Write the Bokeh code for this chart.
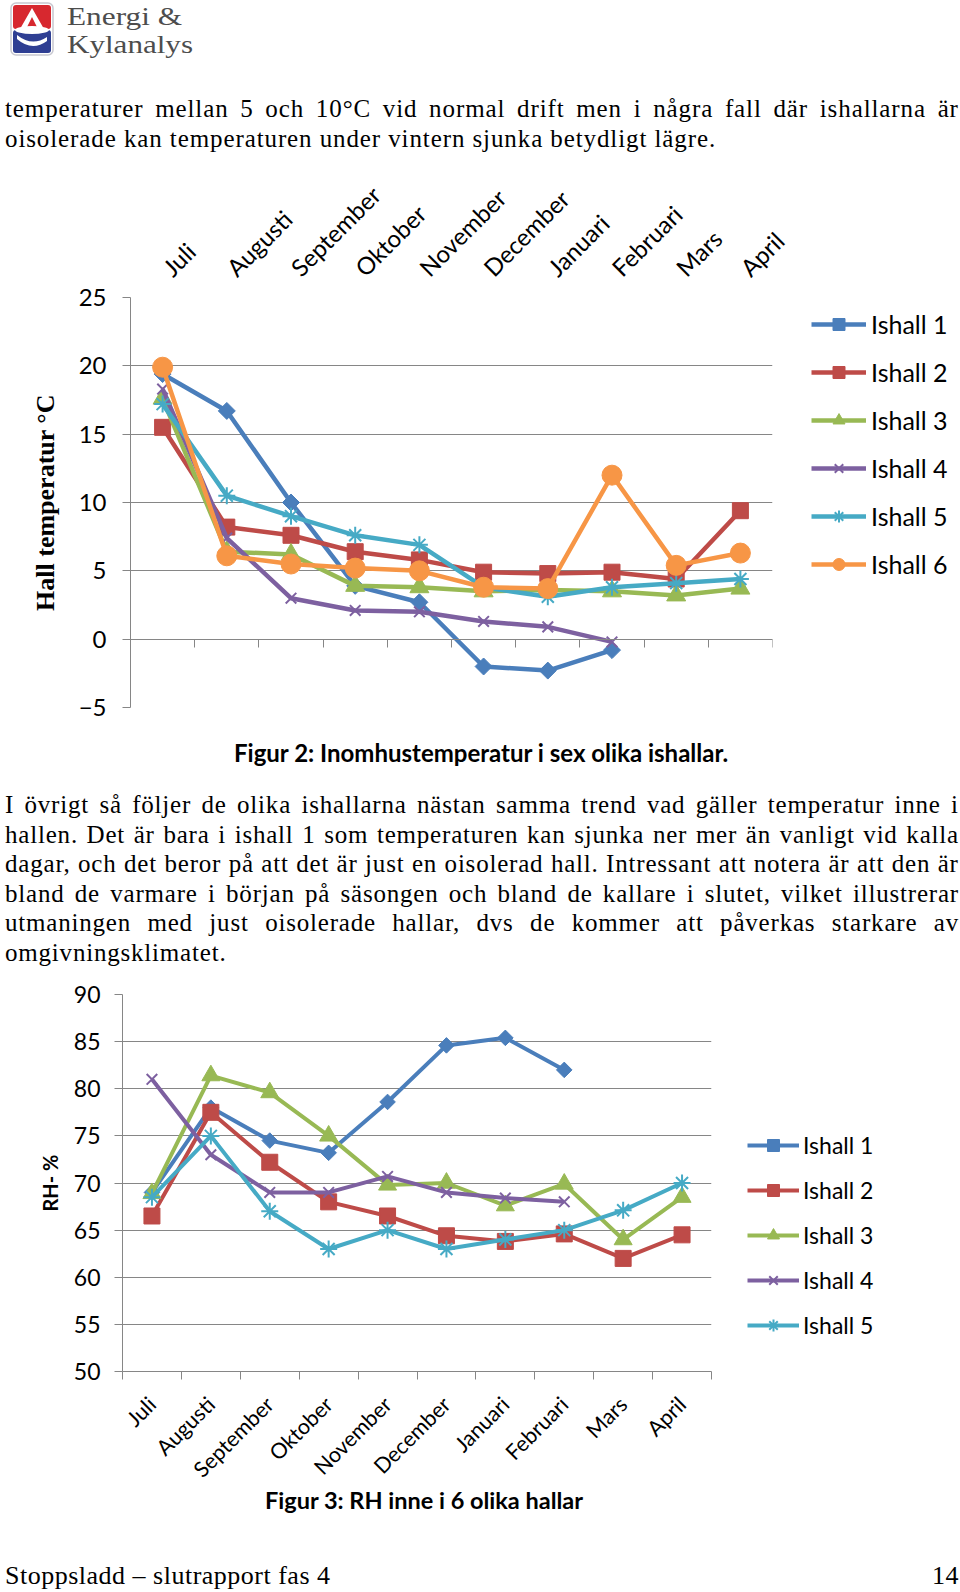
import numpy as np
from bokeh.plotting import figure
from bokeh.models import Div, FixedTicker, LinearAxis, Legend, LegendItem, Range1d
from bokeh.layouts import column
from bokeh.embed import file_html
from bokeh.resources import INLINE

# ---------------- data ----------------
months = ["Juli", "Augusti", "September", "Oktober", "November",
          "December", "Januari", "Februari", "Mars", "April"]
halls = ["Ishall 1", "Ishall 2", "Ishall 3", "Ishall 4", "Ishall 5", "Ishall 6"]

temp_ishall1 = [19.4, 16.7, 10.0, 3.9, 2.7, -2.0, -2.3, -0.8]
temp_ishall2 = [15.5, 8.2, 7.6, 6.4, 5.8, 4.9, 4.8, 4.9, 4.4, 9.4]
temp_ishall3 = [17.6, 6.4, 6.2, 3.9, 3.8, 3.5, 3.6, 3.5, 3.2, 3.7]
temp_ishall4 = [18.3, 7.4, 3.0, 2.1, 2.0, 1.3, 0.9, -0.2]
temp_ishall5 = [17.2, 10.5, 9.0, 7.6, 6.9, 3.8, 3.1, 3.8, 4.1, 4.4]
temp_ishall6 = [19.9, 6.1, 5.5, 5.2, 5.0, 3.8, 3.7, 12.0, 5.4, 6.3]
temp_ticks = [-5, 0, 5, 10, 15, 20, 25]

rh_ishall1 = [69.0, 78.0, 74.5, 73.2, 78.6, 84.6, 85.4, 82.0]
rh_ishall2 = [66.5, 77.5, 72.2, 68.0, 66.5, 64.4, 63.8, 64.6, 62.0, 64.5]
rh_ishall3 = [68.9, 81.4, 79.6, 75.0, 69.8, 70.0, 67.6, 69.9, 64.0, 68.5]
rh_ishall4 = [81.0, 73.0, 69.0, 69.0, 70.7, 69.0, 68.4, 68.0]
rh_ishall5 = [68.5, 75.0, 67.0, 63.0, 65.0, 63.0, 64.0, 65.0, 67.1, 70.0]
rh_ticks = [50, 55, 60, 65, 70, 75, 80, 85, 90]

temp_series = [temp_ishall1, temp_ishall2, temp_ishall3, temp_ishall4, temp_ishall5, temp_ishall6]
rh_series = [rh_ishall1, rh_ishall2, rh_ishall3, rh_ishall4, rh_ishall5]

# ---------------- styles ----------------
colors = ["#4A7EBB", "#BE4B48", "#98B954", "#7D60A0", "#46AAC5", "#F79646"]
markers = ["square", "square", "triangle", "x", "asterisk", "circle"]
angles = [np.pi / 4, 0, 0, 0, 0, 0]
top_sizes = [12, 16, 19, 15, 17, 20]
bot_sizes = [11, 16, 18, 15, 17, 20]
GRAY = "#868686"
SANS = "Lato"
PAGE_W = 960

positions = list(range(len(months)))
boundaries = [i - 0.5 for i in range(len(months) + 1)]
label_map = {i: m for i, m in enumerate(months)}


def base_figure(fw, fh, bl, bt, bb, yr, ticks):
    p = figure(frame_width=fw, frame_height=fh, min_border_left=bl, min_border_right=PAGE_W - bl - fw,
               min_border_top=bt, min_border_bottom=bb,
               x_range=Range1d(-0.5, len(months) - 0.5), y_range=Range1d(*yr),
               x_axis_location=None, y_axis_location="left",
               output_backend="svg", toolbar_location=None)
    p.frame_align = False
    p.outline_line_color = None
    p.background_fill_color = "white"
    p.border_fill_color = "white"
    p.xgrid.visible = False
    p.yaxis.ticker = FixedTicker(ticks=ticks)
    p.yaxis.axis_line_color = GRAY
    p.yaxis.major_tick_line_color = GRAY
    p.yaxis.major_tick_out = 8
    p.yaxis.major_tick_in = 0
    p.yaxis.minor_tick_line_color = None
    p.yaxis.major_label_text_font = SANS
    p.yaxis.major_label_text_color = "black"
    p.ygrid.ticker = FixedTicker(ticks=ticks)
    p.ygrid.grid_line_color = GRAY
    p.ygrid.grid_line_width = 1
    return p


def add_series(p, series, sizes, lw):
    items = []
    for name, vals, col, mk, ang, sz in zip(halls, series, colors, markers, angles, sizes):
        xs = positions[:len(vals)]
        rl = p.line(xs, vals, line_color=col, line_width=lw, line_join="round")
        mlw = 2 if mk in ("x", "asterisk") else 1
        rm = p.scatter(xs, vals, marker=mk, size=sz, angle=ang, fill_color=col,
                       line_color=col, line_width=mlw)
        items.append(LegendItem(label=name, renderers=[rl, rm]))
    return items


# ---------------- chart 1: temperature ----------------
p1 = base_figure(642, 410, 130, 137, 26, (-5, 25), temp_ticks)
p1.yaxis.major_label_text_font_size = "24px"
p1.yaxis.major_label_standoff = 16
p1.yaxis.axis_label = "Hall temperatur \u00b0C"
p1.yaxis.axis_label_text_font = "Liberation Serif"
p1.yaxis.axis_label_text_font_style = "bold"
p1.yaxis.axis_label_text_font_size = "26px"
p1.yaxis.axis_label_text_color = "black"
p1.yaxis.axis_label_standoff = 16

zero_axis = LinearAxis(ticker=FixedTicker(ticks=[], minor_ticks=boundaries), fixed_location=0,
                       axis_line_color=GRAY, major_tick_line_color=None,
                       minor_tick_line_color=GRAY, minor_tick_out=8, minor_tick_in=0,
                       major_label_text_font_size="0px")
p1.add_layout(zero_axis, "below")

p1.extra_x_ranges = {"labels": Range1d(-0.56, len(months) - 0.56)}
top_axis = LinearAxis(x_range_name="labels", ticker=FixedTicker(ticks=positions),
                      major_label_overrides=label_map,
                      axis_line_color=None, major_tick_line_color=None, minor_tick_line_color=None,
                      major_label_orientation=np.pi / 4, major_label_standoff=20,
                      major_label_text_font=SANS, major_label_text_font_size="24px",
                      major_label_text_color="black")
p1.add_layout(top_axis, "above")

items1 = add_series(p1, temp_series, top_sizes, 4.5)
leg1 = Legend(items=items1, location=(39, 128), orientation="vertical",
              glyph_width=55, glyph_height=30, label_height=30, spacing=18,
              padding=0, margin=0, border_line_color=None, background_fill_alpha=0,
              label_standoff=5, label_text_font=SANS, label_text_font_size="25px",
              label_text_color="black")
p1.add_layout(leg1, "right")

# ---------------- chart 2: RH ----------------
p2 = base_figure(589, 377, 122, 19, 128, (50, 90), rh_ticks)
p2.yaxis.major_label_text_font_size = "23px"
p2.yaxis.major_label_standoff = 14
p2.yaxis.axis_label = "RH- %"
p2.yaxis.axis_label_text_font = SANS
p2.yaxis.axis_label_text_font_style = "bold"
p2.yaxis.axis_label_text_font_size = "20px"
p2.yaxis.axis_label_text_color = "black"
p2.yaxis.axis_label_standoff = 9

bot_axis = LinearAxis(ticker=FixedTicker(ticks=positions, minor_ticks=boundaries),
                      major_label_overrides=label_map, axis_line_color=GRAY,
                      major_tick_line_color=None, major_tick_out=8, major_tick_in=0,
                      minor_tick_line_color=GRAY, minor_tick_out=8, minor_tick_in=0,
                      major_label_orientation=np.pi / 4, major_label_standoff=21,
                      major_label_text_font=SANS, major_label_text_font_size="21.5px",
                      major_label_text_color="black")
p2.add_layout(bot_axis, "below")

items2 = add_series(p2, rh_series, bot_sizes, 4)
leg2 = Legend(items=items2, location=(36, 31), orientation="vertical",
              glyph_width=52, glyph_height=30, label_height=30, spacing=15,
              padding=0, margin=0, border_line_color=None, background_fill_alpha=0,
              label_standoff=4, label_text_font=SANS, label_text_font_size="23px",
              label_text_color="black")
p2.add_layout(leg2, "right")

# ---------------- text blocks ----------------
SERIF = "'Liberation Serif', serif"


def just_line(text, h):
    spans = "".join(f"<span>{w}</span>" for w in text.split(" "))
    return (f'<div style="display:flex;justify-content:space-between;height:{h}px;'
            f'line-height:{h}px;white-space:nowrap;">{spans}</div>')


def plain_line(text, h):
    return f'<div style="height:{h}px;line-height:{h}px;white-space:nowrap;">{text}</div>'


logo_html = """
<svg width="960" height="60" style="display:block;overflow:visible">
  <rect x="11" y="3" width="42" height="52" rx="5" fill="white" stroke="#c8c8d0" stroke-width="1.5"/>
  <rect x="13" y="5" width="38" height="24" rx="3" fill="#d7282f"/>
  <rect x="13" y="30" width="38" height="23" rx="3" fill="#2f3f93"/>
  <path d="M20 29 L32 8 L44 29 L38 29 L32 17 L26 29 Z" fill="white"/>
  <ellipse cx="32" cy="30" rx="17" ry="4" fill="white"/>
  <path d="M17 35 Q32 47 47 37 L47 41 Q32 52 17 39 Z" fill="white"/>
  <text x="67" y="25" textLength="115" lengthAdjust="spacingAndGlyphs"
        style="font-family:'Liberation Serif',serif;font-size:25px;fill:#4d4d4d">Energi &amp;</text>
  <text x="67" y="53" textLength="126" lengthAdjust="spacingAndGlyphs"
        style="font-family:'Liberation Serif',serif;font-size:25px;fill:#4d4d4d">Kylanalys</text>
</svg>
"""
logo = Div(text=logo_html, width=PAGE_W, height=60, margin=0)

para1_lines = ["temperaturer mellan 5 och 10\u00b0C vid normal drift men i några fall där ishallarna är",
               "oisolerade kan temperaturen under vintern sjunka betydligt lägre."]
para1_html = (f'<div style="font-family:{SERIF};font-size:25px;letter-spacing:0.9px;color:#000;'
              f'position:relative;left:5px;width:954px;padding-top:34px;">'
              + just_line(para1_lines[0], 30) + plain_line(para1_lines[1], 30) + "</div>")
para1 = Div(text=para1_html, width=PAGE_W, height=100, margin=0)

para2_lines = ["I övrigt så följer de olika ishallarna nästan samma trend vad gäller temperatur inne i",
               "hallen. Det är bara i ishall 1 som temperaturen kan sjunka ner mer än vanligt vid kalla",
               "dagar, och det beror på att det är just en oisolerad hall. Intressant att notera är att den är",
               "bland de varmare i början på säsongen och bland de kallare i slutet, vilket illustrerar",
               "utmaningen med just oisolerade hallar, dvs de kommer att påverkas starkare av",
               "omgivningsklimatet."]
mid_html = (f'<div style="color:#000;width:{PAGE_W}px;">'
            f'<div style="font-family:{SANS};font-weight:bold;font-size:24px;height:20px;line-height:20px;'
            f'margin-top:10px;padding-left:234px;white-space:nowrap;">'
            f'Figur 2: Inomhustemperatur i sex olika ishallar.</div>'
            f'<div style="font-family:{SERIF};font-size:25px;letter-spacing:0.8px;margin-top:27px;'
            f'position:relative;left:5px;width:954px;">'
            + "".join(just_line(t, 29.6) for t in para2_lines[:-1]) + plain_line(para2_lines[-1], 29.6)
            + "</div></div>")
mid = Div(text=mid_html, width=PAGE_W, height=242, margin=0)

end_html = (f'<div style="color:#000;width:{PAGE_W}px;">'
            f'<div style="font-family:{SANS};font-weight:bold;font-size:23.5px;height:2px;line-height:2px;'
            f'padding-left:265px;white-space:nowrap;">Figur 3: RH inne i 6 olika hallar</div>'
            f'<div style="font-family:{SERIF};font-size:26px;letter-spacing:0.5px;height:20px;line-height:20px;'
            f'margin-top:65px;display:flex;justify-content:space-between;white-space:nowrap;'
            f'position:relative;left:5px;width:954px;">'
            f'<span>Stoppsladd \u2013 slutrapport fas 4</span><span>14</span></div></div>')
end = Div(text=end_html, width=PAGE_W, height=91, margin=0)

layout = column(logo, para1, p1, mid, p2, end, spacing=0)

open("out.html", "w").write(file_html(layout, INLINE))
